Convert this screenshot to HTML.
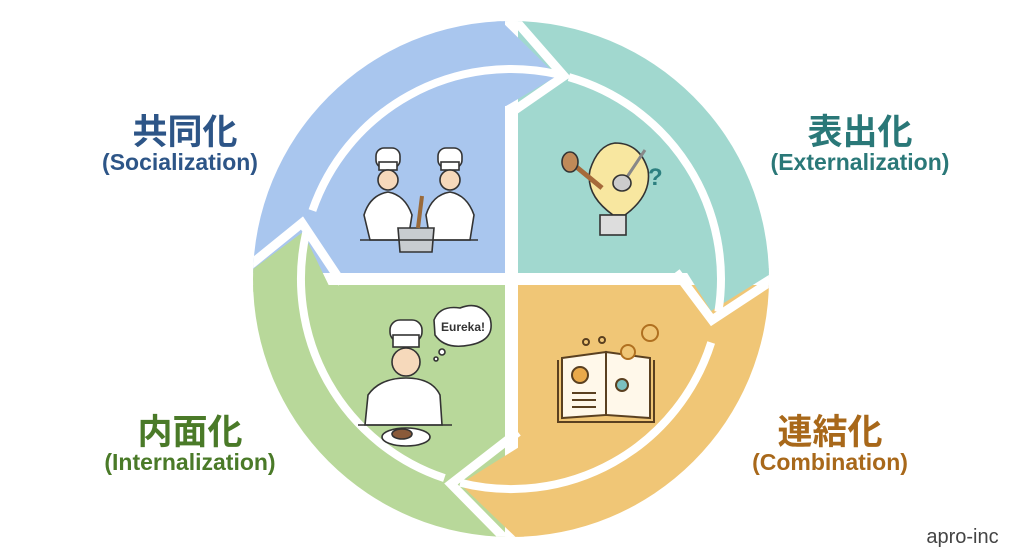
<!DOCTYPE html>
<html><head><meta charset="utf-8"><style>
html,body{margin:0;padding:0;background:#fff;width:1024px;height:559px;overflow:hidden}
.t{position:absolute;font-family:"Liberation Sans","Noto Sans CJK JP",sans-serif;font-weight:bold;text-align:center;white-space:nowrap}
</style></head><body>
<svg width="1024" height="559" style="position:absolute;left:0;top:0" xmlns="http://www.w3.org/2000/svg">
<defs><clipPath id="c"><circle cx="511" cy="279" r="258"/></clipPath></defs>
<g clip-path="url(#c)">
<rect x="250" y="20" width="261" height="259" fill="#a9c6ee"/>
<rect x="511" y="20" width="262" height="259" fill="#a1d8cf"/>
<rect x="250" y="279" width="261" height="262" fill="#b8d89a"/>
<rect x="511" y="279" width="262" height="262" fill="#f0c676"/>
<rect x="505" y="15" width="13" height="530" fill="#fff"/>
<rect x="250" y="273" width="525" height="12" fill="#fff"/>
<g fill="none" stroke="#fff" stroke-width="9" stroke-linejoin="miter">
<polyline points="508,12 564,76 512,112"/>
<polyline points="676,272 712,320 785,272"/>
<polyline points="518,432 451,484 518,552"/>
<polyline points="244,270 302,223 342,283"/>
</g>
<polygon points="495,15 557,76 506,106 495,106" fill="#a9c6ee"/>
<polygon points="780,268 711,311 684,268" fill="#a1d8cf"/>
<polygon points="524,444 460,484 524,545" fill="#f0c676"/>
<polygon points="245,292 245,275 303,232 332,292" fill="#b8d89a"/>
<g fill="none" stroke="#fff" stroke-width="8">
<path d="M312.4,210.6 A210,210 0 0 1 558.2,74.4"/>
<path d="M568.9,77.1 A210,210 0 0 1 718.4,311.8"/>
<path d="M711.2,342.5 A210,210 0 0 1 460.2,482.8"/>
<path d="M444.4,478.1 A210,210 0 0 1 306.1,232.8"/>
</g>
</g>
<!-- chefs -->
<g stroke="#333" stroke-width="1.6" fill="#fff">
<rect x="376" y="148" width="24" height="20" rx="8"/><rect x="379" y="162" width="18" height="8"/>
<circle cx="388" cy="180" r="10" fill="#f6d9bb"/>
<path d="M370 240 L364 215 Q370 195 388 192 Q405 195 412 215 L408 240Z"/>
<rect x="438" y="148" width="24" height="20" rx="8"/><rect x="441" y="162" width="18" height="8"/>
<circle cx="450" cy="180" r="10" fill="#f6d9bb"/>
<path d="M430 240 L426 215 Q432 195 450 192 Q467 195 474 215 L470 240Z"/>
<path d="M398 228 L434 228 L432 252 L400 252Z" fill="#c8ccd0"/>
<line x1="360" y1="240" x2="478" y2="240"/>
<line x1="418" y1="228" x2="422" y2="196" stroke="#9a6a3a" stroke-width="4"/>
</g>
<!-- bulb -->
<g stroke="#333" stroke-width="1.6">
<path d="M613 215 Q585 195 590 170 Q598 145 615 143 Q640 143 648 170 Q652 195 625 215Z" fill="#f8e7a0"/>
<rect x="600" y="215" width="26" height="20" fill="#ddd"/>
<line x1="568" y1="160" x2="602" y2="188" stroke="#a66a3a" stroke-width="5"/>
<ellipse cx="570" cy="162" rx="8" ry="10" fill="#c08a58"/>
<line x1="645" y1="150" x2="625" y2="180" stroke="#888" stroke-width="3"/>
<ellipse cx="622" cy="183" rx="9" ry="8" fill="#ccc"/>
</g>
<text x="648" y="185" font-family="Liberation Sans" font-size="24" font-weight="bold" fill="#2d8080">?</text>
<!-- eureka chef -->
<g stroke="#333" stroke-width="1.6" fill="#fff">
<rect x="390" y="320" width="32" height="22" rx="10"/><rect x="393" y="335" width="26" height="12"/>
<circle cx="406" cy="362" r="14" fill="#f6d9bb"/>
<path d="M365 425 L368 395 Q380 378 406 378 Q432 378 440 395 L442 425Z"/>
<line x1="358" y1="425" x2="452" y2="425"/>
<ellipse cx="406" cy="437" rx="24" ry="9"/>
<ellipse cx="402" cy="434" rx="10" ry="5" fill="#8a5a3a"/>
<path d="M434 320 Q440 305 460 308 Q480 300 490 318 Q496 340 470 345 Q445 350 435 335Z"/>
<circle cx="442" cy="352" r="3"/><circle cx="436" cy="359" r="2"/>
</g>
<text x="463" y="331" font-family="Liberation Sans" font-size="12" font-weight="bold" fill="#333" text-anchor="middle">Eureka!</text>
<!-- book -->
<g stroke="#5a4020" stroke-width="2" fill="#fff8ea">
<path d="M562 358 L606 352 L606 415 L562 418Z"/>
<path d="M606 352 L650 358 L650 418 L606 415Z"/>
<path d="M558 360 L558 422 L654 422 L654 360" fill="none"/>
<circle cx="580" cy="375" r="8" fill="#e9a94a"/>
<circle cx="622" cy="385" r="6" fill="#7ac0c0"/>
<circle cx="650" cy="333" r="8" fill="#f0c676" stroke="#b07020"/>
<circle cx="628" cy="352" r="7" fill="#f0c676" stroke="#b07020"/>
<circle cx="602" cy="340" r="3" fill="none"/><circle cx="586" cy="342" r="3" fill="none"/>
<line x1="572" y1="393" x2="596" y2="393"/><line x1="572" y1="400" x2="596" y2="400"/><line x1="572" y1="407" x2="596" y2="407"/>
</g>
</svg>
<div class="t" style="left:90px;top:104px;width:190px;font-size:35px;color:#2d5587">共同化</div>
<div class="t" style="left:80px;top:149px;width:200px;font-size:23px;color:#2d5587">(Socialization)</div>
<div class="t" style="left:765px;top:104px;width:190px;font-size:35px;color:#2a7878">表出化</div>
<div class="t" style="left:755px;top:149px;width:210px;font-size:23px;color:#2a7878">(Externalization)</div>
<div class="t" style="left:95px;top:404px;width:190px;font-size:35px;color:#4a7a28">内面化</div>
<div class="t" style="left:80px;top:449px;width:220px;font-size:23px;color:#4a7a28">(Internalization)</div>
<div class="t" style="left:735px;top:404px;width:190px;font-size:35px;color:#a8681a">連結化</div>
<div class="t" style="left:730px;top:449px;width:200px;font-size:23px;color:#a8681a">(Combination)</div>
<div class="t" style="left:910px;top:526px;width:105px;font-size:20px;font-weight:normal;color:#444">apro-inc</div>
</body></html>
